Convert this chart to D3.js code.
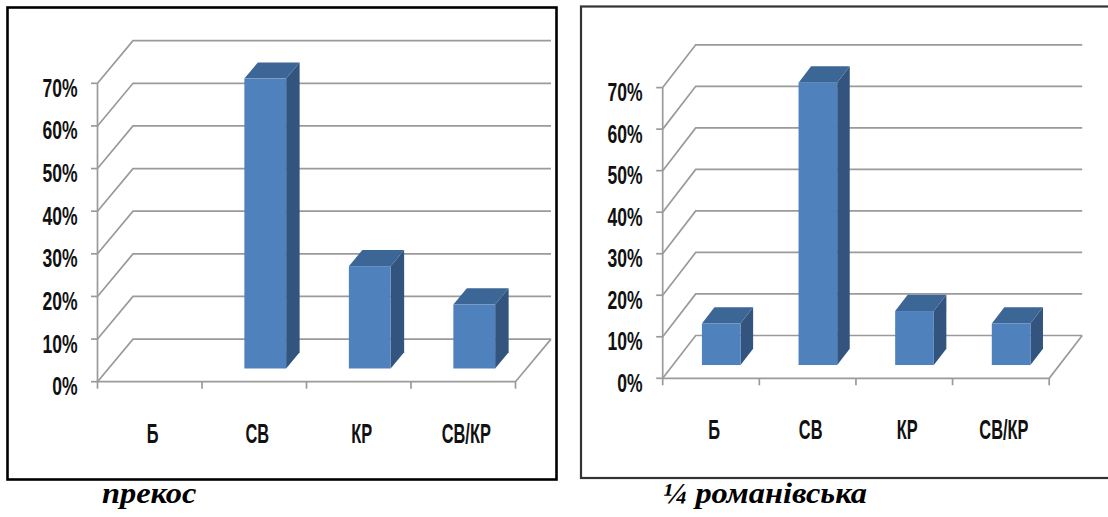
<!DOCTYPE html>
<html>
<head>
<meta charset="utf-8">
<script src="https://cdn.jsdelivr.net/npm/d3@7"></script>
<style>
  html, body { margin: 0; padding: 0; background: #fff; }
  svg { display: block; }
</style>
</head>
<body>
<svg id="fig" width="1108" height="517"></svg>
<script>
// Shares of each group, in percent
const categories = ["Б", "СВ", "КР", "СВ/КР"];
const prekosValues = [0, 68, 24, 15];
const romanivskaValues = [10, 68, 13, 10];
const yTicks = [0, 10, 20, 30, 40, 50, 60, 70];
const yTickLabels = ["0%", "10%", "20%", "30%", "40%", "50%", "60%", "70%"];
const captions = ["прекос", "¼ романівська"];

const svg = d3.select("#fig");

const COLORS = {
  front: "#4F81BD",
  top: "#3C6696",
  side: "#32547F",
  grid: "#9a9a9a"
};

// Layout of the two panels
const panels = [
  {
    values: prekosValues, caption: captions[0],
    frame: { x: 7.5, y: 7.5, w: 549, h: 472, stroke: "#000", sw: 2.6 },
    x0: 97.5, y0: 381.7, W: 418, yTop: 83.3, dx: 35.5, dy: -42.6,
    captionX: 102, captionY: 503
  },
  {
    values: romanivskaValues, caption: captions[1],
    frame: { x: 581, y: 6.5, w: 540, h: 471.5, stroke: "#333", sw: 2.2 },
    x0: 662.7, y0: 378.3, W: 386.5, yTop: 87.6, dx: 33, dy: -42.8,
    captionX: 663, captionY: 503
  }
];

function drawPanel(p) {
  const g = svg.append("g");

  g.append("rect")
    .attr("x", p.frame.x).attr("y", p.frame.y)
    .attr("width", p.frame.w).attr("height", p.frame.h)
    .attr("fill", "none")
    .attr("stroke", p.frame.stroke)
    .attr("stroke-width", p.frame.sw);

  const y = d3.scaleLinear().domain([0, 70]).range([p.y0, p.yTop]);
  const x = d3.scaleBand().domain(categories)
    .range([p.x0, p.x0 + p.W])
    .paddingInner(0.6).paddingOuter(0.3);
  const step = x.step();

  const grid = g.append("g")
    .attr("stroke", COLORS.grid)
    .attr("stroke-width", 1.7)
    .attr("fill", "none");

  // back wall lines + side wall diagonals
  grid.selectAll("path.gl").data(yTicks).join("path")
    .attr("class", "gl")
    .attr("d", t => {
      const yf = y(t);
      return `M${p.x0},${yf}L${p.x0 + p.dx},${yf + p.dy}H${p.x0 + p.W + p.dx}`;
    });

  // floor front edge and right edge
  grid.append("path")
    .attr("d", `M${p.x0},${p.y0}H${p.x0 + p.W}L${p.x0 + p.W + p.dx},${p.y0 + p.dy}`);

  // front value axis
  grid.append("path")
    .attr("d", `M${p.x0},${p.y0}V${y(70)}`);
  grid.selectAll("path.yt").data(yTicks).join("path")
    .attr("class", "yt")
    .attr("d", t => `M${p.x0 - 6.5},${y(t)}H${p.x0}`);

  // category ticks
  const catEdges = d3.range(categories.length + 1).map(i => p.x0 + i * step);
  grid.selectAll("path.xt").data(catEdges).join("path")
    .attr("class", "xt")
    .attr("d", e => `M${e},${p.y0}V${p.y0 + 7}`);

  // value labels
  g.selectAll("g.yl").data(yTicks).join("g")
    .attr("class", "yl")
    .attr("transform", t => `translate(${p.x0 - 20},${y(t) + 4})`)
    .append("text")
    .attr("transform", "scale(0.9,1.36)")
    .attr("text-anchor", "end")
    .attr("dy", "0.36em")
    .attr("font-family", "'Liberation Sans', Arial, sans-serif")
    .attr("font-weight", "bold")
    .attr("font-size", 19.5)
    .attr("fill", "#111")
    .text((t, i) => yTickLabels[i]);

  // category labels
  g.selectAll("g.xl").data(categories).join("g")
    .attr("class", "xl")
    .attr("transform", c => `translate(${x(c) + x.bandwidth() / 2 + 3},${p.y0 + 51})`)
    .append("text")
    .attr("transform", "scale(0.84,1.42)")
    .attr("text-anchor", "middle")
    .attr("dy", "0.36em")
    .attr("font-family", "'Liberation Sans', Arial, sans-serif")
    .attr("font-weight", "bold")
    .attr("font-size", 19.5)
    .attr("fill", "#111")
    .text(c => c);

  // 3D columns, set inside the floor depth
  const f0 = 0.31, fd = 0.38;
  const bars = categories.map((c, i) => ({ c, v: p.values[i] })).filter(d => d.v > 0);
  const bw = x.bandwidth();
  const bx = p.dx * fd, by = p.dy * fd;

  const col = g.selectAll("g.bar").data(bars).join("g").attr("class", "bar");
  const geom = d => {
    const xl = x(d.c) + f0 * p.dx;
    const xr = xl + bw;
    const yt = y(d.v) + f0 * p.dy;
    const yb = y(0) + f0 * p.dy;
    return { xl, xr, yt, yb };
  };

  col.append("path")
    .attr("fill", COLORS.side)
    .attr("d", d => {
      const k = geom(d);
      return `M${k.xr},${k.yt}L${k.xr + bx},${k.yt + by}L${k.xr + bx},${k.yb + by}L${k.xr},${k.yb}Z`;
    });
  col.append("path")
    .attr("fill", COLORS.top)
    .attr("d", d => {
      const k = geom(d);
      return `M${k.xl},${k.yt}L${k.xl + bx},${k.yt + by}L${k.xr + bx},${k.yt + by}L${k.xr},${k.yt}Z`;
    });
  col.append("rect")
    .attr("fill", COLORS.front)
    .attr("x", d => geom(d).xl)
    .attr("y", d => geom(d).yt)
    .attr("width", bw)
    .attr("height", d => geom(d).yb - geom(d).yt);

  // caption under the frame
  svg.append("g")
    .attr("transform", `translate(${p.captionX},${p.captionY})`)
    .append("text")
    .attr("transform", "scale(1.08,1)")
    .attr("font-family", "'Liberation Serif', 'Times New Roman', serif")
    .attr("font-weight", "bold")
    .attr("font-style", "italic")
    .attr("font-size", 30)
    .attr("fill", "#000")
    .text(p.caption);
}

panels.forEach(drawPanel);
</script>
</body>
</html>
